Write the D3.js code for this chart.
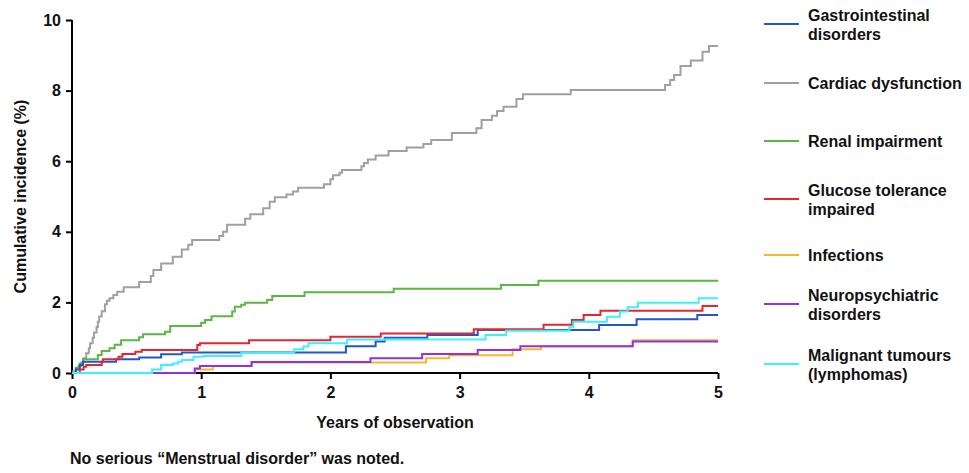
<!DOCTYPE html>
<html>
<head>
<meta charset="utf-8">
<script src="https://cdn.jsdelivr.net/npm/d3@7/dist/d3.min.js"></script>
<style>
  html, body { margin: 0; padding: 0; background: #ffffff; }
  svg { display: block; }
  text { font-family: "Liberation Sans", Arial, sans-serif; font-weight: bold; fill: #111; }
</style>
</head>
<body>
<svg id="chart" width="969" height="473"></svg>
<script>
// ---------- DATA (years, cumulative incidence %) ----------
const xTicks = [0, 1, 2, 3, 4, 5];
const yTicks = [0, 2, 4, 6, 8, 10];

const seriesNames = [
  ["Gastrointestinal", "disorders"],
  ["Cardiac dysfunction"],
  ["Renal impairment"],
  ["Glucose tolerance", "impaired"],
  ["Infections"],
  ["Neuropsychiatric", "disorders"],
  ["Malignant tumours", "(lymphomas)"]
];

const gastrointestinal = [[0,0],[0.03,0.1],[0.06,0.23],[0.085,0.32],[0.34,0.39],[0.52,0.44],[0.69,0.53],[0.85,0.58],
  [2.12,0.76],[2.35,0.89],[2.42,1.0],[2.75,1.08],[3.14,1.22],[4.08,1.36],[4.37,1.52],[4.84,1.64],[5,1.64]];

const cardiac = [[0,0],[0.01,0.05],[0.03,0.12],[0.05,0.2],[0.07,0.3],[0.09,0.42],[0.11,0.56],[0.13,0.7],[0.14,0.84],[0.16,1.0],
  [0.17,1.15],[0.19,1.3],[0.2,1.45],[0.21,1.6],[0.23,1.75],[0.255,1.95],[0.27,2.05],[0.29,2.12],[0.32,2.21],[0.35,2.3],
  [0.4,2.43],[0.52,2.58],[0.61,2.75],[0.63,2.92],[0.69,3.1],[0.78,3.29],[0.85,3.5],[0.9,3.63],[0.93,3.77],[1.14,3.88],
  [1.17,4.0],[1.2,4.2],[1.34,4.37],[1.38,4.5],[1.48,4.67],[1.53,4.85],[1.57,4.98],[1.66,5.06],[1.71,5.14],[1.75,5.25],
  [1.95,5.35],[2.0,5.49],[2.02,5.6],[2.07,5.67],[2.09,5.75],[2.24,5.86],[2.26,5.95],[2.29,6.05],[2.35,6.16],[2.45,6.29],
  [2.59,6.39],[2.72,6.49],[2.78,6.6],[2.94,6.8],[3.13,6.93],[3.17,7.17],[3.25,7.29],[3.29,7.42],[3.34,7.54],[3.44,7.76],
  [3.49,7.9],[3.86,8.02],[4.59,8.16],[4.63,8.3],[4.66,8.44],[4.71,8.7],[4.79,8.85],[4.88,9.1],[4.93,9.26],[5,9.26]];

const renal = [[0,0],[0.03,0.15],[0.06,0.27],[0.085,0.39],[0.2,0.51],[0.23,0.62],[0.29,0.7],[0.33,0.8],[0.38,0.93],
  [0.52,1.01],[0.55,1.1],[0.72,1.17],[0.76,1.33],[1.0,1.42],[1.03,1.5],[1.08,1.61],[1.24,1.74],[1.26,1.88],[1.31,1.93],
  [1.34,1.99],[1.51,2.07],[1.55,2.18],[1.8,2.29],[2.49,2.39],[3.32,2.49],[3.61,2.61],[5,2.61]];

const glucose = [[0,0],[0.06,0.1],[0.09,0.18],[0.11,0.23],[0.23,0.32],[0.24,0.39],[0.36,0.46],[0.39,0.54],[0.49,0.6],
  [0.54,0.65],[0.97,0.79],[0.99,0.84],[1.37,0.93],[2.0,1.03],[2.39,1.12],[3.11,1.24],[3.65,1.37],[3.87,1.5],[3.96,1.64],
  [4.09,1.76],[4.88,1.9],[5,1.9]];

const infections = [[0,0],[0.95,0.1],[1.09,0.2],[1.39,0.3],[2.74,0.42],[2.92,0.5],[3.41,0.67],[3.63,0.76],[4.34,0.93],[5,0.93]];

const neuropsychiatric = [[0,0],[0.95,0.13],[0.99,0.2],[1.39,0.31],[2.31,0.42],[2.71,0.54],[3.14,0.65],[3.47,0.76],[4.34,0.89],[5,0.89]];

const malignant = [[0,0],[0.62,0.1],[0.69,0.23],[0.78,0.27],[0.82,0.32],[0.85,0.37],[0.94,0.46],[1.02,0.48],[1.31,0.57],
  [1.72,0.67],[1.79,0.75],[1.83,0.84],[2.13,0.95],[3.2,1.08],[3.36,1.2],[3.85,1.31],[3.88,1.45],[4.14,1.59],[4.24,1.74],
  [4.3,1.86],[4.38,1.99],[4.85,2.12],[5,2.12]];

const allSeries = [gastrointestinal, cardiac, renal, glucose, infections, neuropsychiatric, malignant];

// ---------- STYLE / LAYOUT ----------
const colors = ["#2357c9", "#a0a0a0", "#5cb545", "#e2272f", "#f5b82a", "#8d33e3", "#3ff0fa"];
const drawOrder = [1, 2, 4, 5, 0, 3, 6];
const legendCenters = [24, 83, 141, 199, 255, 304, 364];

const svg = d3.select("#chart");
const x = d3.scaleLinear().domain([0, 5]).range([72, 718]);
const y = d3.scaleLinear().domain([0, 10]).range([373, 20]);

// axes (drawn first so the curves lie on top of them)
const yAxis = svg.append("g").attr("transform", `translate(${x(0)},0)`)
  .call(d3.axisLeft(y).tickValues(yTicks).tickSize(6).tickPadding(5).tickFormat(d3.format("d")));
const xAxis = svg.append("g").attr("transform", `translate(0,${y(0)})`)
  .call(d3.axisBottom(x).tickValues(xTicks).tickSize(6).tickPadding(8).tickFormat(d3.format("d")));
[yAxis, xAxis].forEach(a => {
  a.select(".domain").attr("stroke", "#000").attr("stroke-width", 2);
  a.selectAll(".tick line").attr("stroke", "#000").attr("stroke-width", 2);
  a.selectAll(".tick text").style("font-size", "16px").style("font-weight", "bold")
    .style("font-family", "'Liberation Sans', Arial, sans-serif").attr("fill", "#111");
});
yAxis.select(".domain").attr("d", `M0,${y(10)}V${y(0)}`);
xAxis.select(".domain").attr("d", `M${x(0) - 1},0H${x(5)}`);

// lines
const line = d3.line().x(d => x(d[0])).y(d => y(d[1])).curve(d3.curveStepAfter);
const gLines = svg.append("g");
drawOrder.forEach(i => {
  gLines.append("path")
    .datum(allSeries[i])
    .attr("d", line)
    .attr("fill", "none")
    .attr("stroke", colors[i])
    .attr("stroke-width", 2)
    .attr("stroke-linejoin", "miter");
});

// axis titles
svg.append("text")
  .attr("x", (x(0) + x(5)) / 2).attr("y", 428)
  .attr("text-anchor", "middle").style("font-size", "16px")
  .text("Years of observation");

svg.append("text")
  .attr("transform", `translate(26,${(y(0) + y(10)) / 2}) rotate(-90)`)
  .attr("text-anchor", "middle").style("font-size", "16px")
  .text("Cumulative incidence (%)");

svg.append("text")
  .attr("x", 70).attr("y", 464)
  .style("font-size", "16px")
  .text("No serious \u201cMenstrual disorder\u201d was noted.");

// legend
const leg = svg.append("g");
seriesNames.forEach((lines, i) => {
  const c = legendCenters[i];
  leg.append("line").attr("x1", 764).attr("x2", 799).attr("y1", c).attr("y2", c)
    .attr("stroke", colors[i]).attr("stroke-width", 2);
  const t = leg.append("text").attr("x", 808).style("font-size", "16px");
  if (lines.length === 1) {
    t.attr("y", c + 6).text(lines[0]);
  } else {
    t.append("tspan").attr("x", 808).attr("y", c - 3).text(lines[0]);
    t.append("tspan").attr("x", 808).attr("y", c + 16).text(lines[1]);
  }
});
</script>
</body>
</html>
